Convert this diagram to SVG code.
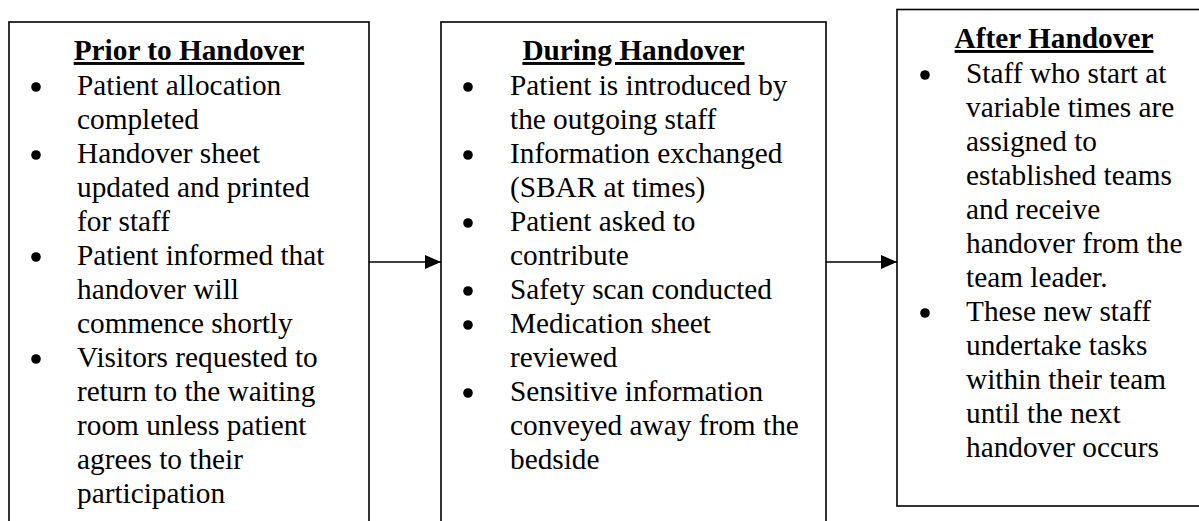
<svg xmlns="http://www.w3.org/2000/svg" width="1199" height="521" viewBox="0 0 1199 521">
<style>
.box{fill:#fff;stroke:#000;stroke-width:1.6}
.t{font-family:"Liberation Serif","Times New Roman",serif;font-size:29.3px;fill:#000}
.h{font-weight:bold;text-decoration:underline;text-anchor:middle}
.b{fill:#000}
.c{stroke:#000;stroke-width:1.6;fill:none}
</style>
<defs>
<marker id="ah" markerWidth="16" markerHeight="14" refX="16" refY="7" orient="auto" markerUnits="userSpaceOnUse">
<path d="M0,0 L16,7 L0,14 Z" fill="#000"/>
</marker>
</defs>
<rect width="1199" height="521" fill="#fff"/>
<g id="prior">
<rect class="box" x="9" y="22" width="360" height="520"/>
<text class="t h" x="189" y="60">Prior to Handover</text>
<circle class="b" cx="36" cy="87" r="4.8"/>
<circle class="b" cx="36" cy="155" r="4.8"/>
<circle class="b" cx="36" cy="257" r="4.8"/>
<circle class="b" cx="36" cy="359" r="4.8"/>
<text class="t" x="77" y="95">Patient allocation</text>
<text class="t" x="77" y="129">completed</text>
<text class="t" x="77" y="163">Handover sheet</text>
<text class="t" x="77" y="197">updated and printed</text>
<text class="t" x="77" y="231">for staff</text>
<text class="t" x="77" y="265">Patient informed that</text>
<text class="t" x="77" y="299">handover will</text>
<text class="t" x="77" y="333">commence shortly</text>
<text class="t" x="77" y="367">Visitors requested to</text>
<text class="t" x="77" y="401">return to the waiting</text>
<text class="t" x="77" y="435">room unless patient</text>
<text class="t" x="77" y="469">agrees to their</text>
<text class="t" x="77" y="503">participation</text>
</g>
<g id="during">
<rect class="box" x="441" y="22" width="385" height="520"/>
<text class="t h" x="633.5" y="60">During Handover</text>
<circle class="b" cx="468" cy="87" r="4.8"/>
<circle class="b" cx="468" cy="155" r="4.8"/>
<circle class="b" cx="468" cy="223" r="4.8"/>
<circle class="b" cx="468" cy="291" r="4.8"/>
<circle class="b" cx="468" cy="325" r="4.8"/>
<circle class="b" cx="468" cy="393" r="4.8"/>
<text class="t" x="510" y="95">Patient is introduced by</text>
<text class="t" x="510" y="129">the outgoing staff</text>
<text class="t" x="510" y="163">Information exchanged</text>
<text class="t" x="510" y="197">(SBAR at times)</text>
<text class="t" x="510" y="231">Patient asked to</text>
<text class="t" x="510" y="265">contribute</text>
<text class="t" x="510" y="299">Safety scan conducted</text>
<text class="t" x="510" y="333">Medication sheet</text>
<text class="t" x="510" y="367">reviewed</text>
<text class="t" x="510" y="401">Sensitive information</text>
<text class="t" x="510" y="435">conveyed away from the</text>
<text class="t" x="510" y="469">bedside</text>
</g>
<g id="after">
<rect class="box" x="897" y="9.5" width="314" height="496.5"/>
<text class="t h" x="1054" y="48">After Handover</text>
<circle class="b" cx="925" cy="75" r="4.8"/>
<circle class="b" cx="925" cy="313" r="4.8"/>
<text class="t" x="966" y="83">Staff who start at</text>
<text class="t" x="966" y="117">variable times are</text>
<text class="t" x="966" y="151">assigned to</text>
<text class="t" x="966" y="185">established teams</text>
<text class="t" x="966" y="219">and receive</text>
<text class="t" x="966" y="253">handover from the</text>
<text class="t" x="966" y="287">team leader.</text>
<text class="t" x="966" y="321">These new staff</text>
<text class="t" x="966" y="355">undertake tasks</text>
<text class="t" x="966" y="389">within their team</text>
<text class="t" x="966" y="423">until the next</text>
<text class="t" x="966" y="457">handover occurs</text>
</g>
<g id="connectors">
<line class="c" x1="369" y1="262" x2="441" y2="262" marker-end="url(#ah)"/>
<line class="c" x1="826" y1="262" x2="897" y2="262" marker-end="url(#ah)"/>
</g>
</svg>
